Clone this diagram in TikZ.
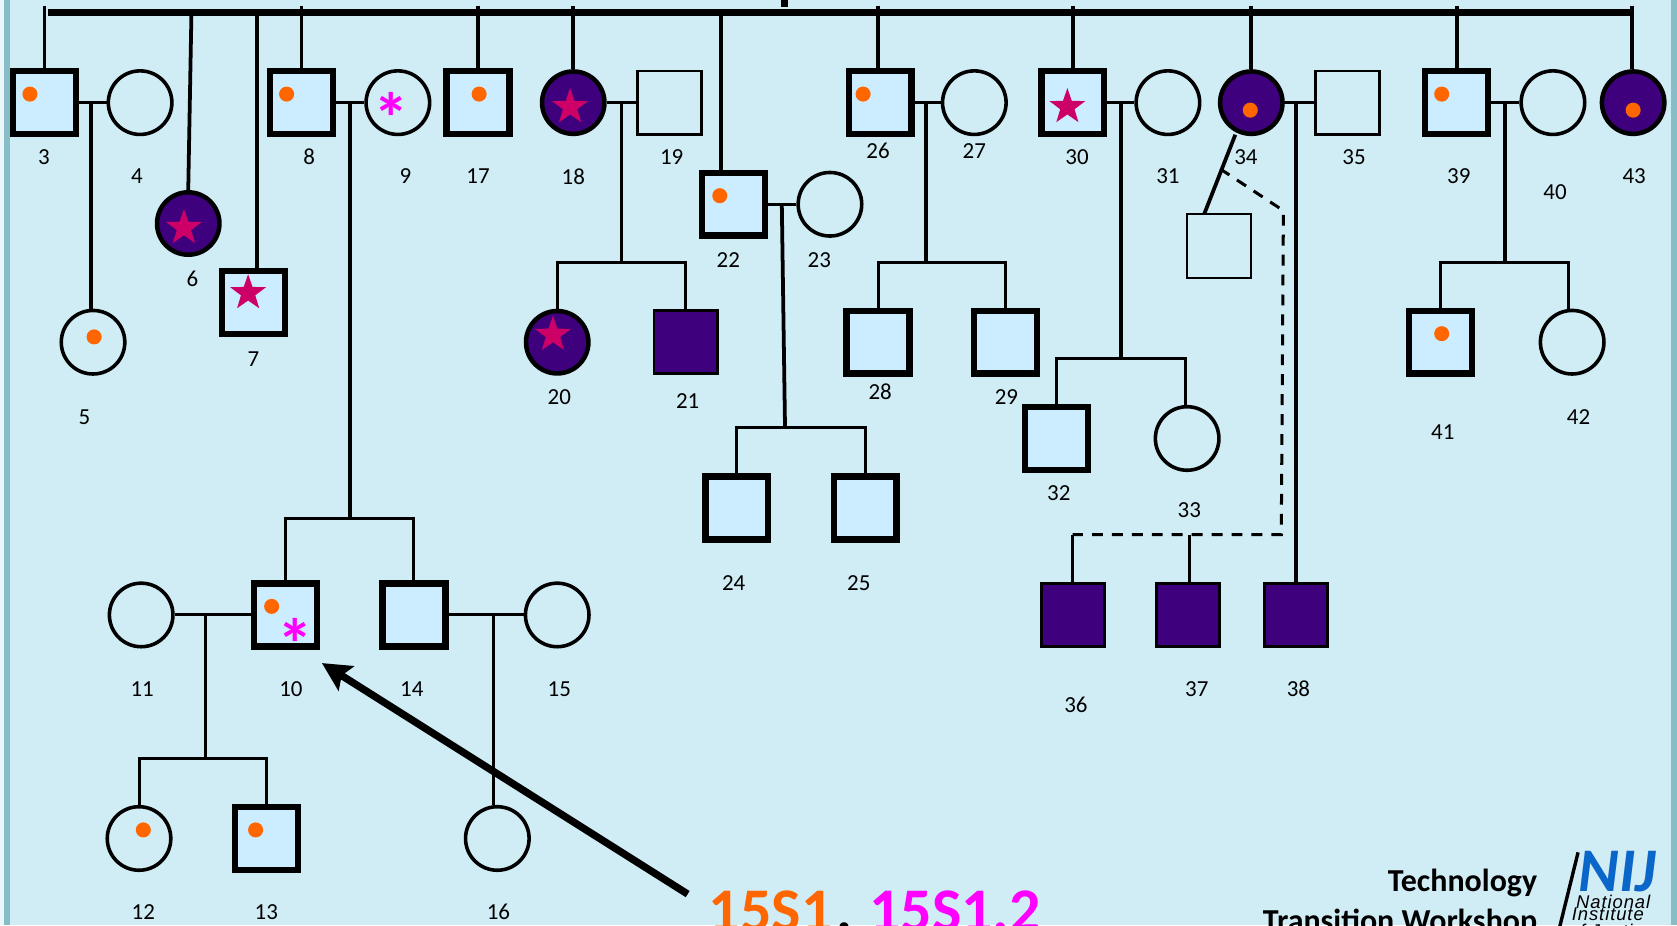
\documentclass[tikz,border=0pt]{standalone}
\usepackage{fontspec}
\setmainfont{Carlito}
\newfontfamily\nijfont[LetterSpace=5]{Liberation Sans}
\usepackage[usenames,dvipsnames]{xcolor}
\usetikzlibrary{shapes,shapes.geometric}
\usetikzlibrary{arrows.meta}
\definecolor{pagesky}{HTML}{D0ECF4}
\definecolor{framesky}{HTML}{86BDC7}
\definecolor{malesky}{HTML}{CCECFF}
\definecolor{deeppurple}{HTML}{3F007D}
\definecolor{dotorange}{HTML}{FF6600}
\definecolor{starred}{HTML}{CC0066}
\definecolor{fullpink}{HTML}{FF00FF}
\definecolor{nijblue}{HTML}{0A66C8}
\tikzset{
	thicksq/.style={rectangle, draw=black, fill=malesky, line width=1.7pt, inner sep=0pt, minimum size=16.7pt}
}
\tikzset{
	thinsq/.style={rectangle, draw=black, line width=0.6pt, inner sep=0pt, minimum size=17pt}
}
\tikzset{
	purplesq/.style={rectangle, draw=black, fill=deeppurple, line width=0.75pt, inner sep=0pt, minimum size=16.8pt}
}
\tikzset{
	opencirc/.style={circle, draw=black, line width=0.95pt, inner sep=0pt, minimum size=16.9pt}
}
\tikzset{
	purplecirc/.style={circle, draw=black, fill=deeppurple, line width=1.2pt, inner sep=0pt, minimum size=16.6pt}
}
\tikzset{
	ordot/.style={circle, fill=dotorange, inner sep=0pt, minimum size=4pt}
}
\tikzset{
	redstar/.style={star, star points=5, star point ratio=2.5, fill=starred, inner sep=0pt, minimum size=10pt}
}
\tikzset{
	pinkast/.style={anchor=base, text=fullpink, inner sep=0pt, font=\fontsize{19}{19}\selectfont\bfseries}
}
\tikzset{
	idlabel/.style={inner sep=0pt, font=\fontsize{6.1}{7}\selectfont}
}
\tikzset{
	codetext/.style={anchor=base west, inner sep=0pt, font=\fontsize{16.5}{18}\selectfont\bfseries}
}
\tikzset{
	wstext/.style={anchor=base east, inner sep=0pt, font=\fontsize{8.5}{10}\selectfont\bfseries}
}
\tikzset{
	nijtext/.style={anchor=base west, inner sep=0pt, font=\fontsize{4.9}{6}\nijfont\itshape, text=black}
}
\tikzset{
	famlink/.style={black, line width=0.8pt}
}
\tikzset{
	kidlink/.style={black, line width=1pt}
}
\begin{document}
\begin{tikzpicture}[x=0.01cm,y=-0.01cm]
	\useasboundingbox (0,0) rectangle (1568,865);
	\clip (0,0) rectangle (1568,865);
	\fill [pagesky!40] (0,0) rectangle (1568,865);
	\fill [framesky] (3.7,0) rectangle (1568,865);
	\fill [pagesky] (9.4,0) rectangle (1562,865);
	% people of the first row
	\draw (41.5,96) node[thicksq] (n3) {};
	\draw (131,96) node[opencirc] (n4) {};
	\draw (282,96) node[thicksq] (n8) {};
	\draw (372,96) node[opencirc] (n9) {};
	\draw (447,96) node[thicksq] (n17) {};
	\draw (536,96) node[purplecirc] (n18) {};
	\draw (626,96) node[thinsq] (n19) {};
	\draw (823,96) node[thicksq] (n26) {};
	\draw (911,96) node[opencirc] (n27) {};
	\draw (1003,96) node[thicksq] (n30) {};
	\draw (1092,96) node[opencirc] (n31) {};
	\draw (1170,96) node[purplecirc] (n34) {};
	\draw (1260,96) node[thinsq] (n35) {};
	\draw (1362,96) node[thicksq] (n39) {};
	\draw (1452,96) node[opencirc] (n40) {};
	\draw (1527,96) node[purplecirc] (n43) {};
	% people further down
	\draw (176,209) node[purplecirc] (n6) {};
	\draw (237,283) node[thicksq] (n7) {};
	\draw (87,320) node[opencirc] (n5) {};
	\draw (686,191) node[thicksq] (n22) {};
	\draw (776,191) node[opencirc] (n23) {};
	\draw (521,320) node[purplecirc] (n20) {};
	\draw (641,320) node[purplesq] (n21) {};
	\draw (821,320) node[thicksq] (n28) {};
	\draw (940,320) node[thicksq] (n29) {};
	\draw (1140,230) node[thinsq] (nx) {};
	\draw (1347,320) node[thicksq] (n41) {};
	\draw (1470,320) node[opencirc] (n42) {};
	\draw (988,410) node[thicksq] (n32) {};
	\draw (1110,410) node[opencirc] (n33) {};
	\draw (689,475) node[thicksq] (n24) {};
	\draw (809,475) node[thicksq] (n25) {};
	\draw (132,575) node[opencirc] (n11) {};
	\draw (267,575) node[thicksq] (n10) {};
	\draw (387,575) node[thicksq] (n14) {};
	\draw (521,575) node[opencirc] (n15) {};
	\draw (1003,575) node[purplesq] (n36) {};
	\draw (1111,575) node[purplesq] (n37) {};
	\draw (1212,575) node[purplesq] (n38) {};
	\draw (130,784) node[opencirc] (n12) {};
	\draw (249,784) node[thicksq] (n13) {};
	\draw (465,784) node[opencirc] (n16) {};
	% top bar
	\coordinate (barl) at (45,11.5);
	\coordinate (barr) at (1527,11.5);
	\coordinate (bartop) at (733.5,0);
	\coordinate (barmid) at (733.5,6.3);
	\coordinate (t3) at (41.5,5.6);
	\coordinate (t6) at (179,11.5);
	\coordinate (t7) at (240,11.5);
	\coordinate (t8) at (282,5.6);
	\coordinate (t17) at (447,5.6);
	\coordinate (t18) at (536,5.6);
	\coordinate (t22) at (674,11.5);
	\coordinate (t26) at (821,5.6);
	\coordinate (t30) at (1003,5.6);
	\coordinate (t34) at (1170,5.6);
	\coordinate (t39) at (1362,5.6);
	\coordinate (t43) at (1526,5.6);
	\draw [black,line width=1.85pt] (barl)-- (barr);
	\draw [black,line width=1.85pt] (bartop)-- (barmid);
	\draw [kidlink] (t3)-- (n3.north);
	\draw [kidlink] (t6)-- (n6.north);
	\draw [kidlink] (t7)-- (t7 |- n7.north);
	\draw [kidlink] (t8)-- (n8.north);
	\draw [kidlink] (t17)-- (n17.north);
	\draw [kidlink] (t18)-- (n18.north);
	\draw [kidlink] (t22)-- (t22 |- n22.north);
	\draw [kidlink] (t26)-- (t26 |- n26.north);
	\draw [kidlink] (t30)-- (n30.north);
	\draw [kidlink] (t34)-- (n34.north);
	\draw [kidlink] (t39)-- (n39.north);
	\draw [kidlink] (t43)-- (t43 |- n43.north);
	% couples and their children
	\coordinate (c3) at (85,96);
	\coordinate (c8) at (327,96);
	\coordinate (c18) at (581,96);
	\coordinate (c22) at (731,191);
	\coordinate (c26) at (866,96);
	\coordinate (c30) at (1048,96);
	\coordinate (c34) at (1212,96);
	\coordinate (c39) at (1407,96);
	\coordinate (c10) at (192,575);
	\coordinate (c14) at (461,575);
	\coordinate (s8) at (327,485);
	\coordinate (s18) at (581,245);
	\coordinate (s22) at (734,400);
	\coordinate (s26) at (866,245);
	\coordinate (s30) at (1048,335);
	\coordinate (s39) at (1407,245);
	\coordinate (s10) at (192,709);
	\coordinate (k33) at (1108,379);
	\coordinate (k42) at (1467,289);
	\draw [famlink] (n3)-- (n4);
	\draw [famlink] (n8)-- (n9);
	\draw [famlink] (n18)-- (n19);
	\draw [famlink] (n22)-- (n23);
	\draw [famlink] (n26)-- (n27);
	\draw [famlink] (n30)-- (n31);
	\draw [famlink] (n34)-- (n35);
	\draw [famlink] (n39)-- (n40);
	\draw [famlink] (n11)-- (n10);
	\draw [famlink] (n14)-- (n15);
	\draw [kidlink] (c3)-- (c3 |- n5.north);
	\draw [kidlink] (c8)-- (s8);
	\draw [kidlink] (c18)-- (s18);
	\draw [kidlink] (c22)-- (s22);
	\draw [kidlink] (c26)-- (s26);
	\draw [kidlink] (c30)-- (s30);
	\draw [kidlink] (c34)-- (n38.north);
	\draw [kidlink] (c39)-- (s39);
	\draw [famlink] (c10)-- (s10);
	\draw [famlink] (c14)-- (c14 |- n16.north);
	\draw [famlink] (n10.north) |- (s8) -| (n14.north);
	\draw [famlink] (n20.north) |- (s18) -| (n21.north);
	\draw [famlink] (n24.north) |- (s22) -| (n25.north);
	\draw [famlink] (n28.north) |- (s26) -| (n29.north);
	\draw [famlink] (n32.north) |- (s30) -| (k33);
	\draw [famlink] (n41.north) |- (s39) -| (k42);
	\draw [famlink] (n12.north) |- (s10) -| (n13.north);
	% the twin branch under 34
	\coordinate (tw1) at (1155,126);
	\coordinate (tw2) at (1126,200);
	\coordinate (tw3) at (1141,158);
	\coordinate (tw4) at (1200,197);
	\coordinate (tw5) at (1198,500);
	\coordinate (tw6) at (1003,500);
	\coordinate (tw7) at (1112,500);
	\draw [kidlink] (tw1)-- (tw2);
	\draw [famlink,dashed,dash pattern=on 2.9pt off 2.4pt] (tw3)-- (tw4)-- (tw5)-- (tw6);
	\draw [famlink] (tw6)-- (tw6 |- n36.north);
	\draw [famlink] (tw7)-- (tw7 |- n37.north);
	% marks on the people
	\draw (28,88) node[ordot] (d3) {};
	\draw (268,88) node[ordot] (d8) {};
	\draw (448,88) node[ordot] (d17) {};
	\draw (807,88) node[ordot] (d26) {};
	\draw (1348,88) node[ordot] (d39) {};
	\draw (673,183) node[ordot] (d22) {};
	\draw (1348,312) node[ordot] (d41) {};
	\draw (254,567) node[ordot] (d10) {};
	\draw (239,776) node[ordot] (d13) {};
	\draw (134,776) node[ordot] (d12) {};
	\draw (88,315) node[ordot] (d5) {};
	\draw (1169,103) node[ordot] (d34) {};
	\draw (1527,103) node[ordot] (d43) {};
	\draw (172,213) node[redstar] (st6) {};
	\draw (232,274) node[redstar] (st7) {};
	\draw (533,100) node[redstar] (st18) {};
	\draw (517,313) node[redstar] (st20) {};
	\draw (998,100) node[redstar] (st30) {};
	\draw (366,134) node[pinkast] (a9) {*};
	\draw (276,626) node[pinkast] (a10) {*};
	% numbers
	\draw (41,147) node[idlabel] (l3) {3};
	\draw (128,165) node[idlabel] (l4) {4};
	\draw (79,390) node[idlabel] (l5) {5};
	\draw (180,261) node[idlabel] (l6) {6};
	\draw (237,336) node[idlabel] (l7) {7};
	\draw (289,147) node[idlabel] (l8) {8};
	\draw (379,165) node[idlabel] (l9) {9};
	\draw (272,644) node[idlabel] (l10) {10};
	\draw (133,644) node[idlabel] (l11) {11};
	\draw (134,853) node[idlabel] (l12) {12};
	\draw (249,853) node[idlabel] (l13) {13};
	\draw (385,644) node[idlabel] (l14) {14};
	\draw (523,644) node[idlabel] (l15) {15};
	\draw (466,853) node[idlabel] (l16) {16};
	\draw (447,165) node[idlabel] (l17) {17};
	\draw (536,165) node[idlabel] (l18) {18};
	\draw (628,147) node[idlabel] (l19) {19};
	\draw (523,371) node[idlabel] (l20) {20};
	\draw (643,375) node[idlabel] (l21) {21};
	\draw (681,243) node[idlabel] (l22) {22};
	\draw (766,243) node[idlabel] (l23) {23};
	\draw (686,545) node[idlabel] (l24) {24};
	\draw (803,545) node[idlabel] (l25) {25};
	\draw (821,141) node[idlabel] (l26) {26};
	\draw (911,141) node[idlabel] (l27) {27};
	\draw (823,366) node[idlabel] (l28) {28};
	\draw (941,371) node[idlabel] (l29) {29};
	\draw (1007,147) node[idlabel] (l30) {30};
	\draw (1092,165) node[idlabel] (l31) {31};
	\draw (990,461) node[idlabel] (l32) {32};
	\draw (1112,477) node[idlabel] (l33) {33};
	\draw (1165,147) node[idlabel] (l34) {34};
	\draw (1266,147) node[idlabel] (l35) {35};
	\draw (1006,659) node[idlabel] (l36) {36};
	\draw (1119,644) node[idlabel] (l37) {37};
	\draw (1214,644) node[idlabel] (l38) {38};
	\draw (1364,165) node[idlabel] (l39) {39};
	\draw (1454,180) node[idlabel] (l40) {40};
	\draw (1349,404) node[idlabel] (l41) {41};
	\draw (1476,390) node[idlabel] (l42) {42};
	\draw (1528,165) node[idlabel] (l43) {43};
	% arrow and bottom texts
	\coordinate (arst) at (643,836);
	\coordinate (artip) at (301,620);
	\draw [black,line width=1.95pt,-{Stealth[length=7.6pt,width=7.6pt,inset=1.4pt]}] (arst)-- (artip);
	\draw (662,871) node[codetext,text=dotorange] (c1) {15S1};
	\draw (781,871) node[codetext,text=black] (c2) {,};
	\draw (812,871) node[codetext,text=fullpink] (c3t) {15S1.2};
	\draw (1438,834) node[wstext] (w1) {Technology};
	\draw (1438,871) node[wstext] (w2) {Transition Workshop};
	% logo
	\coordinate (sl1) at (1475.5,797);
	\coordinate (sl2) at (1458,868);
	\draw [black,line width=0.9pt] (sl1)-- (sl2);
	\draw (1475,834) node[anchor=base west,inner sep=0pt,text=nijblue,font=\fontsize{16.5}{18}\selectfont\bfseries\itshape] (nij) {NIJ};
	\draw (1473,849) node[nijtext] (n1) {National};
	\draw (1469,861) node[nijtext] (n2) {Institute};
	\draw (1466,877) node[nijtext] (n3t) {of Justice};
\end{tikzpicture}
\end{document}
